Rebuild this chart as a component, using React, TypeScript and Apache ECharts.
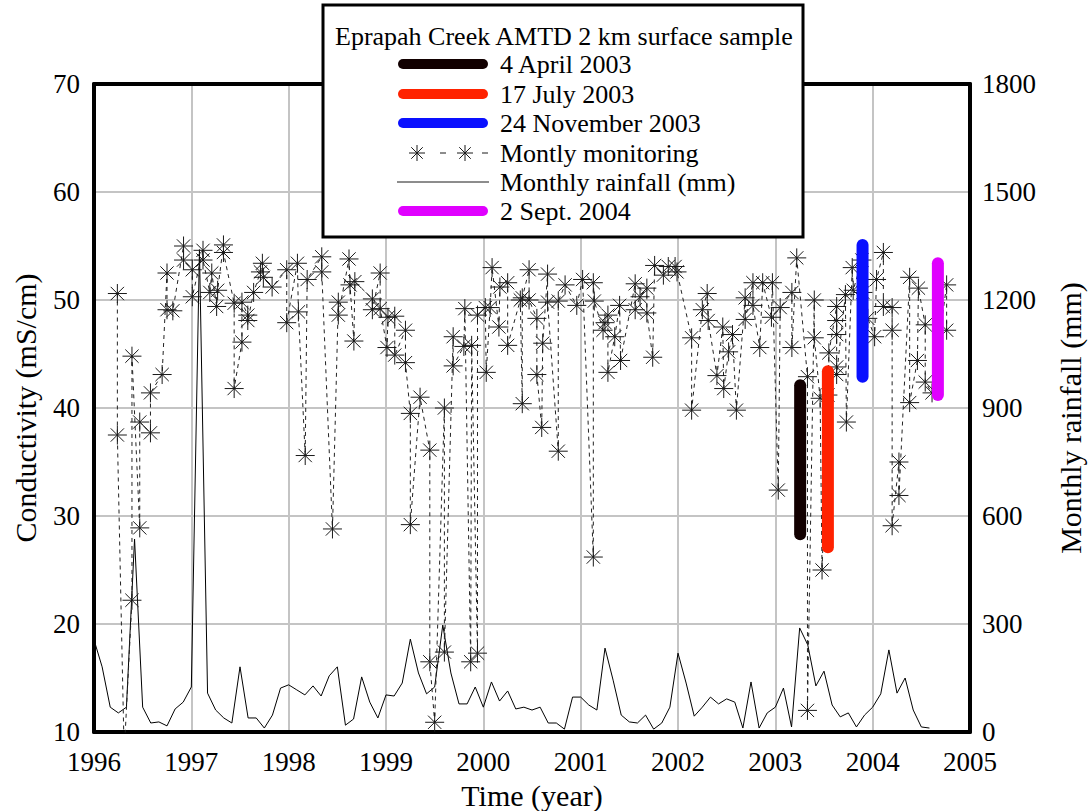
import React, { useEffect, useRef } from "react";
import * as echarts from "echarts";

// Monthly rainfall (mm), January 1996 onward
const rainfallStartYear = 1996;
const rainfallMm = [
  256, 181, 69, 53, 69, 536, 69, 25, 28, 17, 64, 83,
  125, 1340, 108, 61, 39, 25, 181, 39, 39, 11, 47, 122,
  131, 117, 103, 128, 100, 156, 181, 19, 36, 153, 83, 39,
  103, 100, 136, 258, 164, 106, 125, 297, 164, 78, 78, 125,
  69, 139, 86, 114, 64, 69, 61, 69, 25, 25, 8, 97,
  97, 75, 61, 233, 144, 47, 28, 25, 47, 8, 25, 69,
  219, 136, 44, 69, 97, 78, 92, 83, 11, 139, 11, 53,
  69, 122, 14, 289, 242, 128, 169, 75, 42, 53, 14, 47,
  69, 106, 228, 108, 150, 61, 14, 11,
];

// Monitoring conductivity: [decimal year, mS/cm]
const monitoring: [number, number][] = [
  [1996.24, 50.6], [1996.24, 37.5], [1996.31, 8], [1996.39, 22.2], [1996.39, 44.8],
  [1996.47, 28.9], [1996.47, 38.7], [1996.58, 37.7], [1996.58, 41.4], [1996.7, 43.1],
  [1996.75, 52.5], [1996.75, 49.1], [1996.81, 49.0], [1996.92, 55.0], [1996.92, 53.7],
  [1997.01, 52.8], [1997.01, 50.3], [1997.12, 54.6], [1997.12, 53.7], [1997.19, 50.7],
  [1997.21, 52.5], [1997.26, 49.4], [1997.27, 50.9], [1997.33, 55.1], [1997.33, 54.4],
  [1997.44, 49.7], [1997.44, 41.8], [1997.52, 46.1], [1997.52, 49.8], [1997.58, 48.6],
  [1997.58, 48.1], [1997.64, 50.7], [1997.71, 52.6], [1997.73, 53.4], [1997.74, 52.1],
  [1997.83, 51.2], [1997.98, 52.8], [1997.98, 47.9], [1998.09, 53.4], [1998.1, 48.9],
  [1998.17, 35.6], [1998.19, 51.9], [1998.34, 54.0], [1998.34, 52.6], [1998.45, 28.8],
  [1998.51, 49.8], [1998.51, 48.6], [1998.62, 53.8], [1998.63, 51.4], [1998.67, 46.2],
  [1998.68, 51.7], [1998.86, 50.1], [1998.86, 49.1], [1998.94, 52.5], [1998.94, 49.2],
  [1999.01, 45.6], [1999.02, 48.4], [1999.09, 48.5], [1999.09, 44.9], [1999.2, 47.2],
  [1999.2, 44.2], [1999.25, 39.5], [1999.25, 29.2], [1999.35, 41.0], [1999.45, 36.1],
  [1999.45, 16.5], [1999.5, 10.9], [1999.6, 40.0], [1999.6, 17.4], [1999.69, 46.6],
  [1999.69, 43.9], [1999.8, 45.7], [1999.81, 49.2], [1999.87, 16.5], [1999.88, 45.8],
  [1999.94, 17.3], [1999.94, 48.6], [2000.02, 49.3], [2000.03, 43.3], [2000.07, 49.3],
  [2000.09, 53.0], [2000.16, 47.5], [2000.17, 51.2], [2000.25, 51.6], [2000.25, 45.8],
  [2000.38, 50.0], [2000.4, 40.4], [2000.4, 50.2], [2000.47, 52.8], [2000.47, 50.0],
  [2000.55, 48.3], [2000.55, 43.1], [2000.6, 38.2], [2000.61, 46.0], [2000.66, 52.4],
  [2000.66, 49.8], [2000.77, 36.0], [2000.77, 49.9], [2000.84, 51.4], [2000.96, 49.5],
  [2001.02, 51.9], [2001.13, 26.2], [2001.13, 51.6], [2001.14, 49.9], [2001.23, 47.2],
  [2001.25, 47.9], [2001.28, 48.6], [2001.28, 43.3], [2001.35, 46.6], [2001.4, 49.5],
  [2001.41, 44.4], [2001.56, 51.5], [2001.56, 49.1], [2001.61, 50.3], [2001.68, 51.1],
  [2001.68, 48.8], [2001.74, 44.7], [2001.76, 53.2], [2001.85, 52.3], [2001.9, 53.1],
  [2001.97, 53.1], [2001.99, 52.6], [2002.14, 46.5], [2002.14, 39.8], [2002.25, 49.1],
  [2002.3, 50.6], [2002.31, 48.1], [2002.4, 43.0], [2002.46, 47.5], [2002.47, 41.8],
  [2002.52, 45.2], [2002.56, 46.8], [2002.6, 39.8], [2002.69, 50.2], [2002.69, 48.2],
  [2002.77, 51.6], [2002.77, 49.5], [2002.84, 45.6], [2002.87, 51.6], [2002.96, 48.4],
  [2002.97, 51.6], [2003.03, 32.4], [2003.05, 49.3], [2003.17, 50.7], [2003.17, 45.6],
  [2003.22, 53.9], [2003.33, 42.9], [2003.33, 12.0], [2003.4, 50.0], [2003.4, 46.5],
  [2003.46, 40.9], [2003.48, 25.0], [2003.54, 41.2], [2003.55, 45.1], [2003.63, 49.4],
  [2003.63, 48.1], [2003.63, 46.8], [2003.63, 43.8], [2003.63, 43.1], [2003.72, 50.5],
  [2003.73, 38.7], [2003.79, 53.0], [2003.8, 50.9], [2003.89, 53.7], [2003.9, 50.7],
  [2003.95, 48.3], [2004.02, 46.6], [2004.04, 51.9], [2004.11, 54.4], [2004.11, 49.4],
  [2004.2, 49.3], [2004.2, 47.2], [2004.2, 29.1], [2004.27, 35.0], [2004.27, 31.9],
  [2004.38, 52.1], [2004.38, 40.5], [2004.46, 44.4], [2004.47, 51.1], [2004.54, 47.7],
  [2004.54, 42.4], [2004.61, 41.4], [2004.76, 51.4], [2004.76, 47.2],
];

// Surface sample conductivity ranges along the creek on each field day
const sampleNames = ["4 April 2003", "17 July 2003", "24 November 2003", "2 Sept. 2004"];
const sampleDates = [2003.255, 2003.54, 2003.896, 2004.67];
const sampleMin = [28.3, 27.1, 42.9, 41.2];
const sampleMax = [42.1, 43.4, 55.1, 53.4];
const sampleColors = ["#120000", "#ff2200", "#0a10ff", "#e000ff"];

const FONT = '"Liberation Serif", "Times New Roman", serif';
const INK = "#1a1a1a";
const ASTERISK = "path://M0,-1L0,1M-1,0L1,0M-0.7,-0.7L0.7,0.7M-0.7,0.7L0.7,-0.7";
const TOP = 100;

function asterisk(cx: number, cy: number, r: number) {
  const d = r * 0.72;
  const ls = { stroke: INK, lineWidth: 1 };
  return [
    { type: "line", z: TOP + 1, shape: { x1: cx, y1: cy - r, x2: cx, y2: cy + r }, style: ls },
    { type: "line", z: TOP + 1, shape: { x1: cx - r, y1: cy, x2: cx + r, y2: cy }, style: ls },
    { type: "line", z: TOP + 1, shape: { x1: cx - d, y1: cy - d, x2: cx + d, y2: cy + d }, style: ls },
    { type: "line", z: TOP + 1, shape: { x1: cx - d, y1: cy + d, x2: cx + d, y2: cy - d }, style: ls },
  ];
}

function serifText(text: string, x: number, y: number, size: number, align: string, rotation = 0) {
  return {
    type: "text",
    z: TOP + 1,
    x,
    y,
    rotation,
    style: {
      text,
      fontFamily: FONT,
      fontSize: size,
      fill: "#000",
      align,
      verticalAlign: "middle",
    },
  };
}

function buildOption() {
  const rainData = rainfallMm.map((v, i) => [rainfallStartYear + i / 12, v]);

  const legendX1 = 403;
  const legendX2 = 483;
  const rowY = [64, 94, 123, 153, 182, 211];
  const textX = 500;
  const thick = (color: string, y: number) => ({
    type: "line",
    z: TOP + 1,
    shape: { x1: legendX1, y1: y, x2: legendX2, y2: y },
    style: { stroke: color, lineWidth: 10, lineCap: "round" },
  });
  const thin = (x1: number, x2: number, y: number) => ({
    type: "line",
    z: TOP + 1,
    shape: { x1, y1: y, x2, y2: y },
    style: { stroke: INK, lineWidth: 1 },
  });

  const legendElements: any[] = [
    {
      type: "rect",
      z: TOP,
      shape: { x: 323, y: 5, width: 480, height: 232 },
      style: { fill: "#fff", stroke: "#000", lineWidth: 3 },
    },
    serifText("Eprapah Creek AMTD 2 km surface sample", 335, 36, 26, "left"),
    thick(sampleColors[0], rowY[0]),
    serifText(sampleNames[0], textX, rowY[0], 26, "left"),
    thick(sampleColors[1], rowY[1]),
    serifText(sampleNames[1], textX, rowY[1], 26, "left"),
    thick(sampleColors[2], rowY[2]),
    serifText(sampleNames[2], textX, rowY[2], 26, "left"),
    ...asterisk(417, rowY[3], 8),
    ...asterisk(465, rowY[3], 8),
    thin(440, 446, rowY[3]),
    thin(482, 488, rowY[3]),
    serifText("Montly monitoring", textX, rowY[3], 26, "left"),
    thin(397, 489, rowY[4]),
    serifText("Monthly rainfall (mm)", textX, rowY[4], 26, "left"),
    thick(sampleColors[3], rowY[5]),
    serifText(sampleNames[3], textX, rowY[5], 26, "left"),
  ];

  const sampleSeries = sampleNames.map((name, i) => ({
    name,
    type: "line",
    yAxisIndex: 0,
    data: [
      [sampleDates[i], sampleMin[i]],
      [sampleDates[i], sampleMax[i]],
    ],
    showSymbol: false,
    symbol: "none",
    lineStyle: { color: sampleColors[i], width: 12, cap: "round" },
    z: 5,
  }));

  const axisLabel = { color: "#000", fontFamily: FONT, fontSize: 27 };
  const gridLine = { show: true, lineStyle: { color: "#c4c4c4", width: 2 } };
  const frame = { show: true, lineStyle: { color: "#000", width: 4 } };
  const plain = (v: number) => String(v);

  return {
    animation: false,
    backgroundColor: "#fff",
    textStyle: { fontFamily: FONT },
    grid: { left: 94, right: 119, top: 84, bottom: 79 },
    xAxis: [
      {
        type: "value",
        min: 1996,
        max: 2005,
        interval: 1,
        position: "bottom",
        axisLine: frame,
        axisTick: { show: false },
        splitLine: gridLine,
        axisLabel: { ...axisLabel, margin: 16, formatter: plain },
      },
      {
        type: "value",
        min: 1996,
        max: 2005,
        interval: 1,
        position: "top",
        axisLine: frame,
        axisTick: { show: false },
        splitLine: { show: false },
        axisLabel: { show: false },
      },
    ],
    yAxis: [
      {
        type: "value",
        min: 10,
        max: 70,
        interval: 10,
        position: "left",
        axisLine: frame,
        axisTick: { show: false },
        splitLine: gridLine,
        axisLabel: { ...axisLabel, margin: 14, formatter: plain },
      },
      {
        type: "value",
        min: 0,
        max: 1800,
        interval: 300,
        position: "right",
        axisLine: frame,
        axisTick: { show: false },
        splitLine: { show: false },
        axisLabel: { ...axisLabel, margin: 12, formatter: plain },
      },
    ],
    series: [
      {
        name: "Monthly rainfall (mm)",
        type: "line",
        yAxisIndex: 1,
        data: rainData,
        showSymbol: false,
        symbol: "none",
        lineStyle: { color: "#000", width: 1 },
        z: 3,
      },
      {
        name: "Montly monitoring",
        type: "line",
        yAxisIndex: 0,
        data: monitoring,
        symbol: ASTERISK,
        symbolSize: 19,
        showAllSymbol: true,
        clip: true,
        itemStyle: { color: "rgba(0,0,0,0)", borderColor: INK, borderWidth: 1 },
        lineStyle: { color: "#222", width: 1, type: [4, 4] },
        z: 4,
      },
      ...sampleSeries,
    ],
    graphic: [
      serifText("Conductivity (mS/cm)", 25, 408, 30, "center", Math.PI / 2),
      serifText("Monthly rainfall (mm)", 1070, 418, 30, "center", Math.PI / 2),
      serifText("Time (year)", 532, 795, 30, "center"),
      ...legendElements,
    ],
  };
}

export default function App() {
  const ref = useRef<HTMLDivElement>(null);
  useEffect(() => {
    const chart = echarts.init(ref.current!, null, { renderer: "svg" });
    chart.setOption(buildOption() as any);
    return () => chart.dispose();
  }, []);
  return (
    <div
      ref={ref}
      style={{ position: "fixed", left: 0, top: 0, width: 1089, height: 811, background: "#fff" }}
    />
  );
}
